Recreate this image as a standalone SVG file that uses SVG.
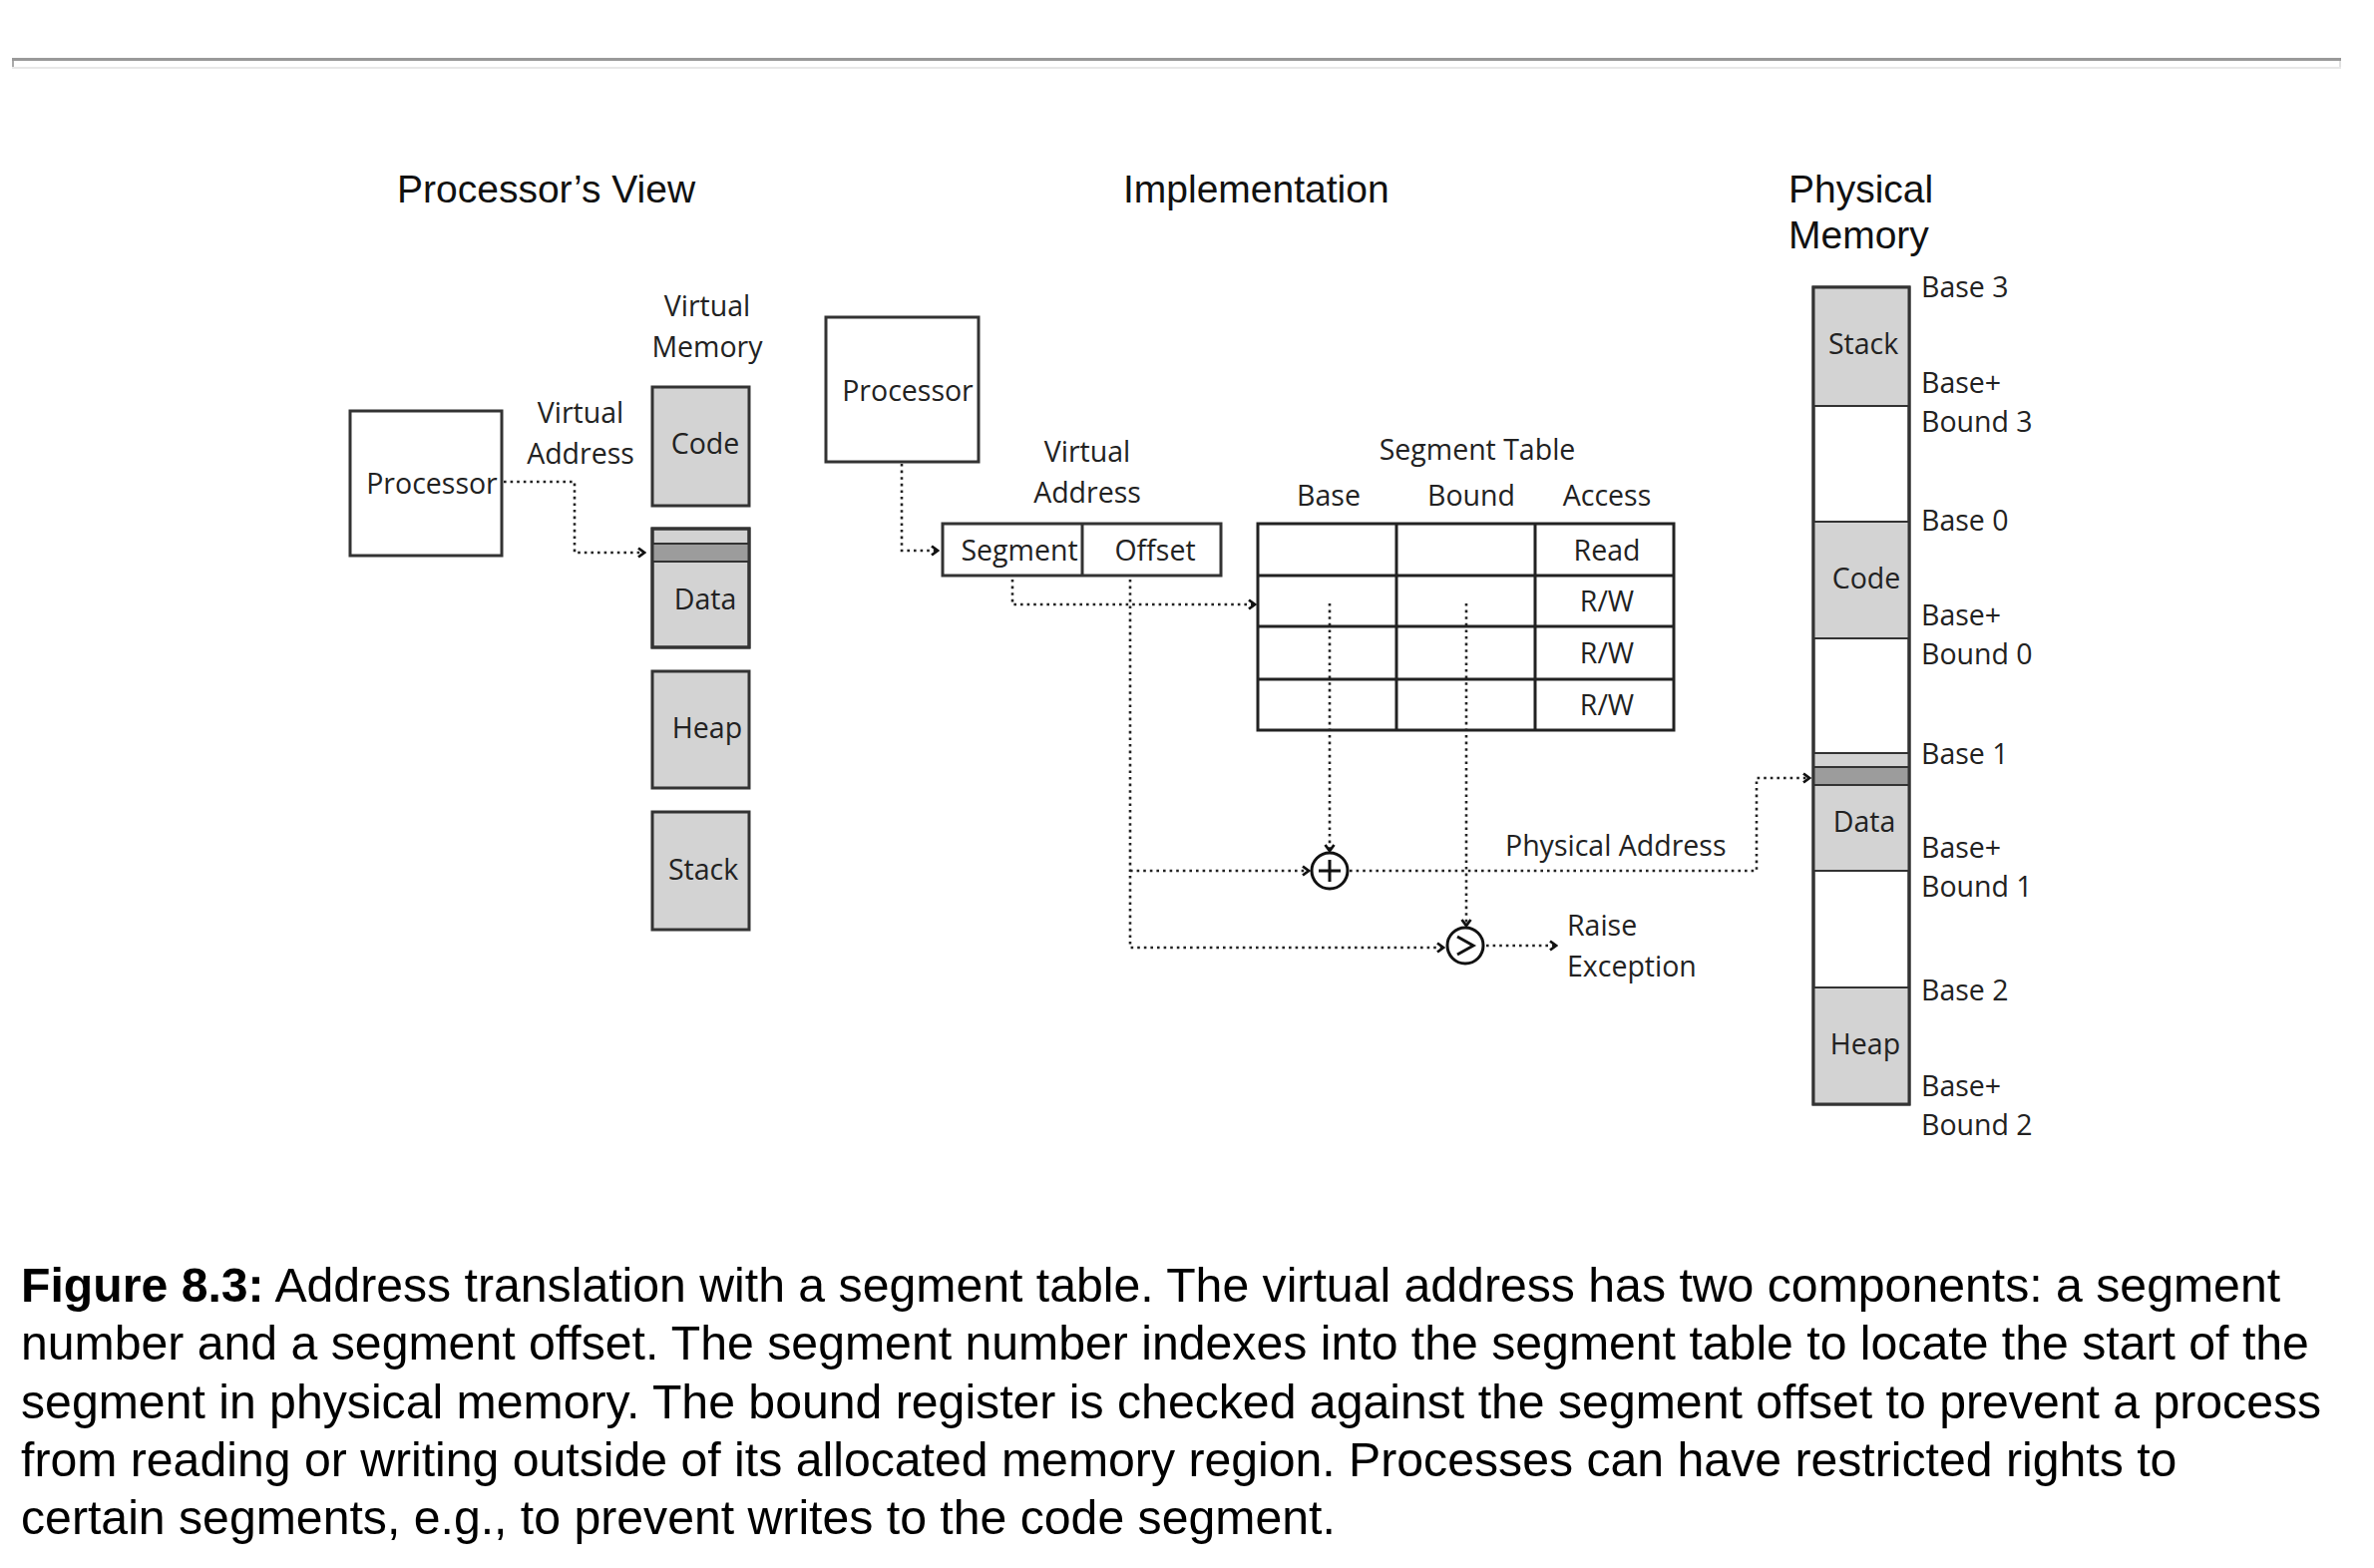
<svg xmlns="http://www.w3.org/2000/svg" width="2380" height="1572" viewBox="0 0 2380 1572">
<defs>
<style>
.lbl{font-family:"Open Sans","Noto Sans","DejaVu Sans",sans-serif;font-size:28.5px;fill:#222}
.mid{text-anchor:middle}
.ttl{font-family:"Liberation Sans",Arial,sans-serif;font-size:39px;fill:#111}
.cap{font-family:"Liberation Sans",Arial,sans-serif;font-size:48.2px;fill:#000}
.box{fill:#fff;stroke:#333;stroke-width:3}
.mem{fill:#d3d3d3;stroke:#333;stroke-width:3}
.dark{fill:#9c9c9c;stroke:#333;stroke-width:2}
.light{fill:#d3d3d3;stroke:#333;stroke-width:2}
.grid{fill:none;stroke:#222;stroke-width:3}
.dot{fill:none;stroke:#222;stroke-width:2.6;stroke-dasharray:2.6 4}
.sym{fill:#fff;stroke:#111;stroke-width:3}
</style>
<marker id="arr" viewBox="0 0 10 12" markerWidth="10" markerHeight="12" refX="8" refY="6" orient="auto" markerUnits="userSpaceOnUse">
<path d="M2,1.5 L8,6 L2,10.5" fill="none" stroke="#111" stroke-width="2.8" stroke-dasharray="none"/>
</marker>
</defs>
<rect width="2380" height="1572" fill="#fff"/>

<g id="rule">
<rect x="12" y="58" width="2335" height="3" fill="#999"/>
<rect x="12" y="61" width="2" height="8" fill="#aaa"/>
<rect x="2345" y="61" width="2" height="8" fill="#e0e0e0"/>
<rect x="12" y="67" width="2335" height="2" fill="#e8e8e8"/>
</g>

<g id="titles">
<text class="ttl" x="398" y="203">Processor’s View</text>
<text class="ttl" x="1126" y="203">Implementation</text>
<text class="ttl" x="1793" y="203">Physical<tspan x="1793" dy="46">Memory</tspan></text>
</g>

<g id="pv-processor">
<rect class="box" x="351" y="412" width="152" height="145"/>
<text class="lbl mid" x="433" y="495">Processor</text>
</g>
<g id="pv-va-label">
<text class="lbl mid" x="582" y="424">Virtual<tspan x="582" dy="41">Address</tspan></text>
</g>
<g id="vm-label">
<text class="lbl mid" x="709" y="317">Virtual<tspan x="709" dy="41">Memory</tspan></text>
</g>
<g id="vm-code">
<rect class="mem" x="654" y="388" width="97" height="119"/>
<text class="lbl mid" x="707" y="455">Code</text>
</g>
<g id="vm-data">
<rect class="mem" x="654" y="530" width="97" height="119"/>
<rect class="dark" x="654" y="545" width="97" height="18"/>
<rect x="654" y="530" width="97" height="119" fill="none" stroke="#333" stroke-width="3"/>
<text class="lbl mid" x="707" y="611">Data</text>
</g>
<g id="vm-heap">
<rect class="mem" x="654" y="673" width="97" height="117"/>
<text class="lbl mid" x="709" y="740">Heap</text>
</g>
<g id="vm-stack">
<rect class="mem" x="654" y="814" width="97" height="118"/>
<text class="lbl mid" x="705" y="882">Stack</text>
</g>

<g id="impl-processor">
<rect class="box" x="828" y="318" width="153" height="145"/>
<text class="lbl mid" x="910" y="402">Processor</text>
</g>
<g id="impl-va-label">
<text class="lbl mid" x="1090" y="463">Virtual<tspan x="1090" dy="41">Address</tspan></text>
</g>
<g id="vaddr">
<rect class="box" x="945" y="525" width="279" height="52"/>
<line x1="1085" y1="525" x2="1085" y2="577" stroke="#333" stroke-width="3"/>
<text class="lbl mid" x="1022" y="562">Segment</text>
<text class="lbl mid" x="1158" y="562">Offset</text>
</g>

<g id="segtable">
<text class="lbl mid" x="1481" y="461">Segment Table</text>
<text class="lbl mid" x="1332" y="507">Base</text>
<text class="lbl mid" x="1475" y="507">Bound</text>
<text class="lbl mid" x="1611" y="507">Access</text>
<rect class="grid" x="1261" y="525" width="417" height="207"/>
<path class="grid" d="M1261,577 H1678 M1261,628 H1678 M1261,681 H1678 M1400,525 V732 M1539,525 V732"/>
<text class="lbl mid" x="1611" y="562">Read</text>
<text class="lbl mid" x="1611" y="613">R/W</text>
<text class="lbl mid" x="1611" y="665">R/W</text>
<text class="lbl mid" x="1611" y="717">R/W</text>
</g>

<g id="adder">
<circle class="sym" cx="1333" cy="873" r="18"/>
<path d="M1333,862 V884 M1322,873 H1344" stroke="#111" stroke-width="3" fill="none"/>
</g>
<g id="comparator">
<circle class="sym" cx="1469" cy="948" r="18"/>
<polyline points="1461,939 1477,948 1461,957" fill="none" stroke="#111" stroke-width="3"/>
</g>
<g id="pa-label">
<text class="lbl" x="1509" y="858">Physical Address</text>
</g>
<g id="exc-label">
<text class="lbl" x="1571" y="938">Raise<tspan x="1571" dy="41">Exception</tspan></text>
</g>

<g id="physmem">
<rect x="1818" y="288" width="96" height="819" fill="#fff" stroke="#333" stroke-width="3"/>
<rect class="light" x="1818" y="288" width="96" height="119"/>
<rect class="light" x="1818" y="523" width="96" height="117"/>
<rect class="light" x="1818" y="755" width="96" height="118"/>
<rect class="dark" x="1818" y="769" width="96" height="18"/>
<rect class="light" x="1818" y="990" width="96" height="117"/>
<rect x="1818" y="288" width="96" height="819" fill="none" stroke="#333" stroke-width="3"/>
<text class="lbl mid" x="1868" y="355">Stack</text>
<text class="lbl mid" x="1871" y="590">Code</text>
<text class="lbl mid" x="1869" y="834">Data</text>
<text class="lbl mid" x="1870" y="1057">Heap</text>
</g>
<g id="pm-labels">
<text class="lbl" x="1926" y="298">Base 3</text>
<text class="lbl" x="1926" y="394">Base+<tspan x="1926" dy="39">Bound 3</tspan></text>
<text class="lbl" x="1926" y="532">Base 0</text>
<text class="lbl" x="1926" y="627">Base+<tspan x="1926" dy="39">Bound 0</tspan></text>
<text class="lbl" x="1926" y="766">Base 1</text>
<text class="lbl" x="1926" y="860">Base+<tspan x="1926" dy="39">Bound 1</tspan></text>
<text class="lbl" x="1926" y="1003">Base 2</text>
<text class="lbl" x="1926" y="1099">Base+<tspan x="1926" dy="39">Bound 2</tspan></text>
</g>

<g id="connectors">
<path class="dot" d="M505,483 H576 V554 H646" marker-end="url(#arr)"/>
<path class="dot" d="M904,465 V552 H940" marker-end="url(#arr)"/>
<path class="dot" d="M1015,581 V606 H1258" marker-end="url(#arr)"/>
<path class="dot" d="M1133,581 V950 H1447" marker-end="url(#arr)"/>
<path class="dot" d="M1133,873 H1312" marker-end="url(#arr)"/>
<path class="dot" d="M1333,605 V853" marker-end="url(#arr)"/>
<path class="dot" d="M1470,605 V928" marker-end="url(#arr)"/>
<path class="dot" d="M1490,948 H1560" marker-end="url(#arr)"/>
<path class="dot" d="M1353,873 H1761 V780 H1814" marker-end="url(#arr)"/>
</g>

<g id="caption">
<text class="cap" x="21" y="1305"><tspan font-weight="bold">Figure 8.3:</tspan> Address translation with a segment table. The virtual address has two components: a segment</text>
<text class="cap" x="21" y="1363">number and a segment offset. The segment number indexes into the segment table to locate the start of the</text>
<text class="cap" x="21" y="1422">segment in physical memory. The bound register is checked against the segment offset to prevent a process</text>
<text class="cap" x="21" y="1480">from reading or writing outside of its allocated memory region. Processes can have restricted rights to</text>
<text class="cap" x="21" y="1538">certain segments, e.g., to prevent writes to the code segment.</text>
</g>
</svg>
